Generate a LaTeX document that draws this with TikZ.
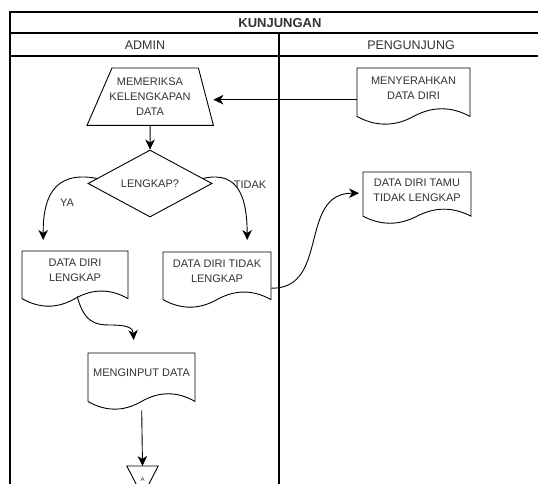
\documentclass[tikz,border=0pt]{standalone}
\usepackage{fontspec}
\setmainfont{Liberation Sans}
\usetikzlibrary{arrows.meta,calc,shapes.geometric}
\definecolor{txtgray}{RGB}{51,51,51}
\tikzset{
  frame/.style={line width=1.1pt, draw=black},
  shapeline/.style={line width=0.9pt, draw=black},
  txt/.style={text=txtgray, font=\fontsize{11}{15}\selectfont, align=center, inner sep=0pt},
  lbl/.style={text=txtgray, font=\fontsize{11}{13}\selectfont, inner sep=0pt},
  bounds/.style={draw=none, inner sep=0pt, anchor=north west},
  conn/.style={line width=0.9pt, draw=black, -{Stealth[length=10pt,width=9.5pt,inset=3pt]}},
}
\newcommand\docbox[6]{%
  \pgfmathsetmacro\dxl{#2}%
  \pgfmathsetmacro\dxr{#2+#4}%
  \pgfmathsetmacro\dxm{#2+#4/2}%
  \pgfmathsetmacro\dyt{#3}%
  \pgfmathsetmacro\dyy{0.3*#5}%
  \pgfmathsetmacro\dye{#3+#5-0.5*\dyy}%
  \pgfmathsetmacro\dyu{#3+#5-1.1*\dyy}%
  \pgfmathsetmacro\dyd{#3+#5+0.1*\dyy}%
  \pgfmathsetmacro\dws{#4/6}%
  \pgfmathsetmacro\dtc{#3+0.35*#5}%
  \node[bounds, minimum width=#4pt, minimum height=#5pt] (#1) at (\dxl,\dyt) {};
  \draw[shapeline] (\dxl,\dyt) -- (\dxr,\dyt) -- (\dxr,\dye)
    .. controls (\dxr-\dws,\dyu) and (\dxm+\dws,\dyu) .. (\dxm,\dye)
    .. controls (\dxm-\dws,\dyd) and (\dxl+\dws,\dyd) .. (\dxl,\dye) -- cycle;
  \node[txt] (#1t) at (\dxm,\dtc) {#6};
}
\begin{document}
\begin{tikzpicture}[x=1pt,y=-1pt]
\useasboundingbox (0,0) rectangle (538,483);
\clip (0,0) rectangle (538,483);
\fill[white] (0,0) rectangle (538,483);

% swimlane frame
\draw[frame] (10,12) rectangle (580,540);
\draw[frame] (10,33) -- (580,33);
\draw[frame] (10,56) -- (580,56);
\draw[frame] (279,33) -- (279,540);
\node[txt, font=\bfseries\fontsize{13}{15}\selectfont] (title) at (280,23) {KUNJUNGAN};
\node[txt, font=\fontsize{12.5}{15}\selectfont] (hadmin) at (145,45) {ADMIN};
\node[txt, font=\fontsize{12.5}{15}\selectfont] (hpeng) at (411,45) {PENGUNJUNG};

% trapezoid
\node[bounds, minimum width=126pt, minimum height=57pt] (tz) at (87,68) {};
\draw[shapeline] (tz.south west) -- ([xshift=25pt]tz.north west) -- ([xshift=-15pt]tz.north east) -- (tz.south east) -- cycle;
\node[txt] (tzt) at (150,97) {MEMERIKSA\\KELENGKAPAN\\DATA};

% decision
\node[draw=black, line width=0.9pt, diamond, minimum width=124pt, minimum height=67pt, inner sep=0pt] (dm) at (150,183.5) {};
\node[txt] (dmt) at (150,184) {LENGKAP?};

% documents
\docbox{d0}{357}{68}{113}{57}{MENYERAHKAN\\DATA DIRI}
\docbox{d1}{22}{251}{106}{56}{DATA DIRI\\LENGKAP}
\docbox{d2}{163}{252}{108}{56}{DATA DIRI TIDAK\\LENGKAP}
\docbox{d3}{363}{172}{108}{52}{DATA DIRI TAMU\\TIDAK LENGKAP}
\docbox{d4}{88}{353}{107}{57}{MENGINPUT DATA}

% off-page connector
\node[draw=none, inner sep=0pt, minimum width=31pt, minimum height=30pt, anchor=north] (tri) at (142.5,466) {};
\draw[shapeline] (tri.north west) -- (tri.north east) -- (tri.south) -- cycle;
\node[txt, font=\fontsize{6}{7}\selectfont] (trit) at (142.5,479) {A};

% connectors
\draw[conn] ([yshift=-3pt]d0.west) -- ([yshift=-3pt]tz.east);
\draw[conn] (tz.south) -- (dm.north);
\draw[conn] ($(dm.west)!0.15!(dm.north)$) .. controls (52,170) and (43,200) .. ([xshift=-32pt,yshift=11pt]d1.north);
\draw[conn] ($(dm.east)!0.15!(dm.north)$) .. controls (240,170) and (247,200) .. ([xshift=30pt,yshift=12pt]d2.north);
\draw[conn] ([yshift=-8pt]d2.east) .. controls (330,289) and (298,193) .. ([xshift=-4pt,yshift=5pt]d3.west);
\draw[conn] ([xshift=2pt,yshift=11pt]d1.south) .. controls (84,322) and (95,325) .. (110,325)
   .. controls (128,325) and (133,328) .. ([xshift=-8pt,yshift=13pt]d4.north);
\draw[conn] (d4.south) -- (tri.north);

% edge labels
\node[lbl] (ya) at (67,203) {YA};
\node[lbl] (tidak) at (250,185) {TIDAK};
\end{tikzpicture}
\end{document}
